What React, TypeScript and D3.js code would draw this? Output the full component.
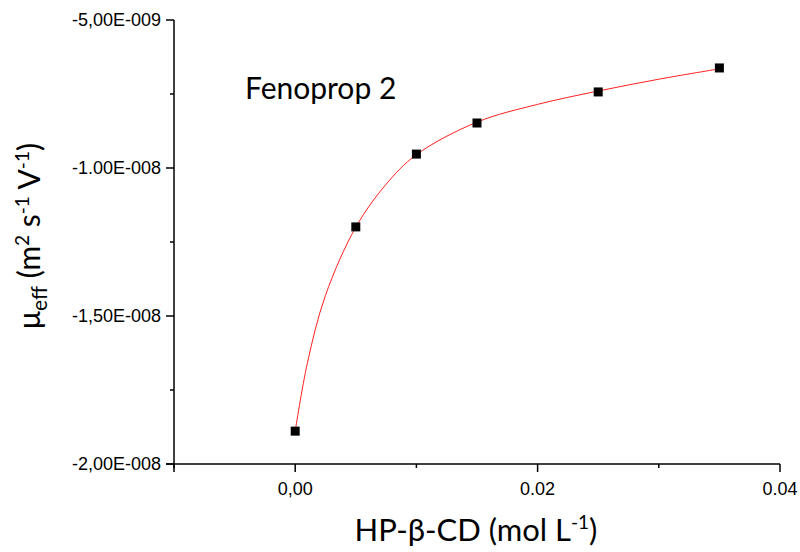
import React, { useEffect, useRef } from "react";
import * as d3 from "d3";

// cyclodextrin concentration (mol/L) and effective mobility (m2 s-1 V-1)
const conc = [0, 0.005, 0.01, 0.015, 0.025, 0.035];
const mobility = [-1.889e-8, -1.199e-8, -9.53e-9, -8.48e-9, -7.43e-9, -6.62e-9];

// red fitted curve
const fitConc = [0, 0.001, 0.0025, 0.005, 0.0075, 0.01, 0.015, 0.02, 0.025, 0.03, 0.035];
const fitMobility = [
  -1.889e-8, -1.66e-8, -1.43e-8, -1.2e-8, -1.055e-8, -9.55e-9, -8.45e-9, -7.85e-9,
  -7.4e-9, -7.0e-9, -6.65e-9,
];

const yTicks = [-5e-9, -1e-8, -1.5e-8, -2e-8];
const yTickLabels = ["-5,00E-009", "-1.00E-008", "-1,50E-008", "-2,00E-008"];
const yMinor = [-7.5e-9, -1.25e-8, -1.75e-8];
const xTicks = [0, 0.02, 0.04];
const xTickLabels = ["0,00", "0.02", "0.04"];
const xMinor = [-0.01, 0.01, 0.03];

const W = 800;
const H = 552;

const App = () => {
  const ref = useRef<SVGSVGElement>(null);

  useEffect(() => {
    const svg = d3.select(ref.current);
    svg.selectAll("*").remove();

    const x = d3.scaleLinear().domain([-0.01, 0.04]).range([174, 780]);
    const y = d3.scaleLinear().domain([-2e-8, -5e-9]).range([464, 20]);

    const axisFont = "'Liberation Sans', Arial, sans-serif";
    const titleFont = "Lato, 'Open Sans', sans-serif";
    const x0 = x(-0.01);
    const yb = y(-2e-8);

    // axes lines
    svg.append("line")
      .attr("x1", x0).attr("x2", x0)
      .attr("y1", y(-5e-9)).attr("y2", yb + 8)
      .attr("stroke", "#000").attr("stroke-width", 1.5);
    svg.append("line")
      .attr("x1", x0 - 8).attr("x2", x(0.04))
      .attr("y1", yb).attr("y2", yb)
      .attr("stroke", "#000").attr("stroke-width", 1.5);

    // y ticks
    yTicks.forEach((t, i) => {
      svg.append("line")
        .attr("x1", x0 - 8).attr("x2", x0)
        .attr("y1", y(t)).attr("y2", y(t))
        .attr("stroke", "#000").attr("stroke-width", 1.5);
      svg.append("text")
        .attr("x", x0 - 13).attr("y", y(t))
        .attr("dy", "0.35em")
        .attr("text-anchor", "end")
        .style("font-family", axisFont)
        .style("font-size", "18px")
        .text(yTickLabels[i]);
    });
    yMinor.forEach((t) => {
      svg.append("line")
        .attr("x1", x0 - 4).attr("x2", x0)
        .attr("y1", y(t)).attr("y2", y(t))
        .attr("stroke", "#000").attr("stroke-width", 1.5);
    });

    // x ticks
    xTicks.forEach((t, i) => {
      svg.append("line")
        .attr("x1", x(t)).attr("x2", x(t))
        .attr("y1", yb).attr("y2", yb + 8)
        .attr("stroke", "#000").attr("stroke-width", 1.5);
      svg.append("text")
        .attr("x", x(t)).attr("y", yb + 31)
        .attr("text-anchor", "middle")
        .style("font-family", axisFont)
        .style("font-size", "18px")
        .text(xTickLabels[i]);
    });
    xMinor.forEach((t) => {
      svg.append("line")
        .attr("x1", x(t)).attr("x2", x(t))
        .attr("y1", yb).attr("y2", yb + 4)
        .attr("stroke", "#000").attr("stroke-width", 1.5);
    });

    const pts = conc.map((c, i) => [c, mobility[i]] as [number, number]);
    const fit = fitConc.map((c, i) => [c, fitMobility[i]] as [number, number]);

    // fitted curve
    const line = d3.line<[number, number]>()
      .x((d) => x(d[0]))
      .y((d) => y(d[1]))
      .curve(d3.curveCatmullRom.alpha(0.5));
    svg.append("path")
      .attr("d", line(fit))
      .attr("fill", "none")
      .attr("stroke", "#ff2020")
      .attr("stroke-width", 1);

    // markers
    svg.selectAll("rect.pt")
      .data(pts)
      .enter()
      .append("rect")
      .attr("class", "pt")
      .attr("x", (d) => x(d[0]) - 4.5)
      .attr("y", (d) => y(d[1]) - 4.5)
      .attr("width", 9)
      .attr("height", 9)
      .attr("fill", "#000");

    // annotation
    svg.append("text")
      .attr("x", 245).attr("y", 99)
      .style("font-family", titleFont)
      .style("font-size", "30px")
      .text("Fenoprop 2");

    // x title
    const xt = svg.append("text")
      .attr("x", 476).attr("y", 541)
      .attr("text-anchor", "middle")
      .style("font-family", titleFont)
      .style("font-size", "31px");
    xt.append("tspan").text("HP-β-CD (mol L");
    xt.append("tspan").attr("dy", -12).style("font-size", "19px").text("-1");
    xt.append("tspan").attr("dy", 12).text(")");

    // y title
    const yt = svg.append("text")
      .attr("transform", "translate(40,236) rotate(-90)")
      .attr("text-anchor", "middle")
      .style("font-family", titleFont)
      .style("font-size", "30px");
    yt.append("tspan").text("μ");
    yt.append("tspan").attr("dy", 7).style("font-size", "21px").text("eff");
    yt.append("tspan").attr("dy", -7).text(" (m");
    yt.append("tspan").attr("dy", -11).style("font-size", "19px").text("2");
    yt.append("tspan").attr("dy", 11).text(" s");
    yt.append("tspan").attr("dy", -11).style("font-size", "19px").text("-1");
    yt.append("tspan").attr("dy", 11).text(" V");
    yt.append("tspan").attr("dy", -11).style("font-size", "19px").text("-1");
    yt.append("tspan").attr("dy", 11).text(")");
  }, []);

  return (
    <svg
      ref={ref}
      width={W}
      height={H}
      style={{ position: "absolute", left: 0, top: 0, background: "#fff" }}
    ></svg>
  );
};

export default App;
